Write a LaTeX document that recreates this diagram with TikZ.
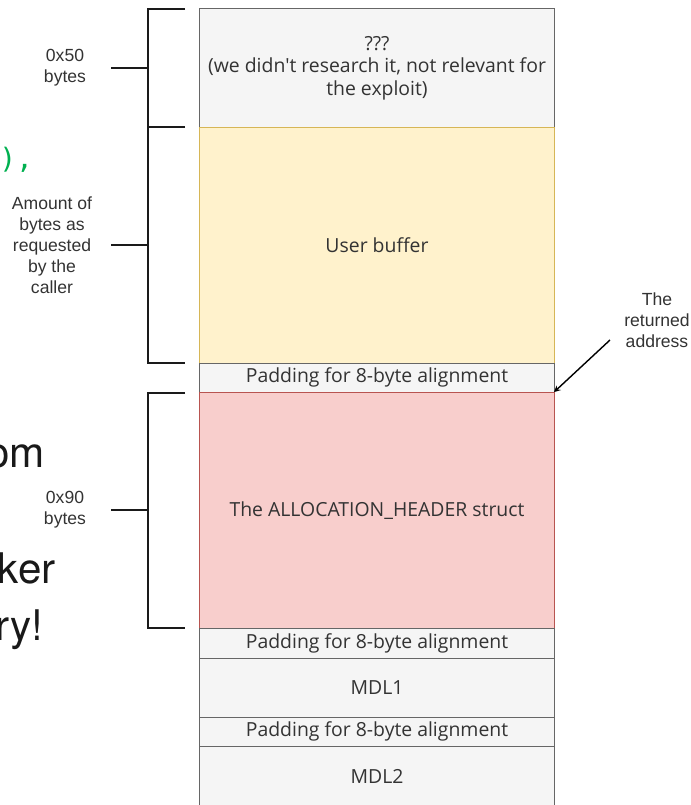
\documentclass[tikz,border=0pt]{standalone}
\usepackage{fontspec}
\newfontfamily\cellfont{Open Sans}[Ligatures=TeXOff]
\newfontfamily\labelfont{Liberation Sans}
\newfontfamily\slidefont{TeX Gyre Heros}
\newfontfamily\codefont{DejaVu Sans Mono}
\usetikzlibrary{positioning}
\definecolor{cellgray}{HTML}{F5F5F5}
\definecolor{cellline}{HTML}{666666}
\definecolor{bufyellow}{HTML}{FFF2CC}
\definecolor{bufline}{HTML}{D6B656}
\definecolor{hdrred}{HTML}{F8CECC}
\definecolor{hdrline}{HTML}{B85450}
\definecolor{celltext}{HTML}{333333}
\definecolor{bracketcol}{HTML}{1A1A1A}
\definecolor{codegreen}{HTML}{00B050}

\begin{document}
\begin{tikzpicture}[x=0.025cm, y=-0.025cm,
  cell/.style={draw=cellline, fill=cellgray, text=celltext, line width=0.7pt,
    minimum width=8.85cm, inner sep=0pt, outer sep=0pt, align=center,
    font=\cellfont\fontsize{13.8}{16}\selectfont},
  bufcell/.style={cell, draw=bufline, fill=bufyellow},
  hdrcell/.style={cell, draw=hdrline, fill=hdrred},
  bracketline/.style={line width=2pt, bracketcol},
  sizelabel/.style={align=center, text=celltext, inner sep=0pt,
    font=\labelfont\fontsize{12.5}{15}\selectfont},
  slidetext/.style={anchor=base east, inner sep=0pt, text=black!90,
    font=\slidefont\fontsize{30}{36}\selectfont}]

\useasboundingbox (0,0) rectangle (691,805);
\clip (0,0) rectangle (691,805);

% bits of the slide behind
\node[anchor=base west, inner sep=0pt, text=codegreen, font=\codefont\fontsize{20}{24}\selectfont] (code) at (-1,168) {),};
\node[slidetext] (frag1) at (45,467) {om};
\node[slidetext] (frag2) at (56,583) {ker};
\node[slidetext] (frag3) at (44,640) {ry!};

% memory layout, top to bottom
\node[cell, minimum height=2.95cm] (unknown) at (377,68) {???\\(we didn't research it, not relevant for\\the exploit)};
\node[bufcell, minimum height=5.9cm, below=0pt of unknown] (userbuf) {User buffer};
\node[cell, minimum height=0.725cm, below=0pt of userbuf] (pad1) {Padding for 8-byte alignment};
\node[hdrcell, minimum height=5.9cm, below=0pt of pad1] (header) {The ALLOCATION\_HEADER struct};
\node[cell, minimum height=0.75cm, below=0pt of header] (pad2) {Padding for 8-byte alignment};
\node[cell, minimum height=1.475cm, below=0pt of pad2] (mdl1) {MDL1};
\node[cell, minimum height=0.725cm, below=0pt of mdl1] (pad3) {Padding for 8-byte alignment};
\node[cell, minimum height=1.5cm, below=0pt of pad3] (mdl2) {MDL2};

% brackets
\draw[bracketline] (185,9) -- (148,9) -- (148,127) -- (185,127);
\draw[bracketline] (111,68) -- (148,68);
\node[sizelabel] (size50) at (65,68) {0x50\\bytes};

\draw[bracketline] (185,127) -- (148,127) -- (148,363) -- (185,363);
\draw[bracketline] (111,245) -- (148,245);
\node[sizelabel] (sizereq) at (52,245) {Amount of\\bytes as\\requested\\by the\\caller};

\draw[bracketline] (185,393) -- (148,393) -- (148,628) -- (185,628);
\draw[bracketline] (111,510) -- (148,510);
\node[sizelabel] (size90) at (65,510) {0x90\\bytes};

% returned address
\node[sizelabel] (retaddr) at (657,320) {The\\returned\\address};
\coordinate (retstart) at (610,340);
\draw[-stealth, line width=1pt] (retstart) -- (pad1.south east);
\end{tikzpicture}
\end{document}
